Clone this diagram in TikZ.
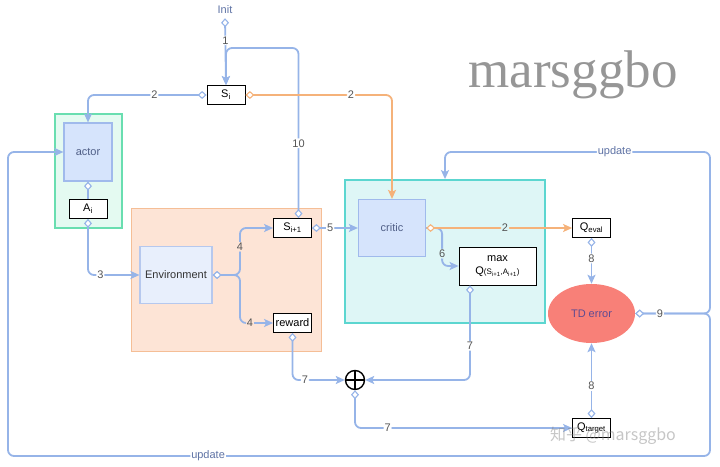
\documentclass[tikz,border=0pt]{standalone}
\usepackage{fontspec}
\setmainfont{Liberation Sans}
\newfontfamily\brandfont{Liberation Serif}
\newfontfamily\cjkfont{Noto Sans CJK SC}
\usepackage{tikz}
\usetikzlibrary{arrows.meta}
\usetikzlibrary{shapes.geometric}
\definecolor{flowblue}{RGB}{150, 180, 232}
\definecolor{floworange}{RGB}{245, 178, 122}
\definecolor{flowtext}{RGB}{95, 115, 165}
\definecolor{labelgray}{RGB}{85, 85, 85}
\definecolor{actorfill}{RGB}{228, 250, 241}
\definecolor{actorline}{RGB}{105, 222, 176}
\definecolor{modfill}{RGB}{214, 228, 252}
\definecolor{modline}{RGB}{160, 186, 236}
\definecolor{modtext}{RGB}{80, 95, 135}
\definecolor{envfill}{RGB}{253, 228, 214}
\definecolor{envline}{RGB}{245, 190, 150}
\definecolor{envbox}{RGB}{232, 239, 252}
\definecolor{envboxline}{RGB}{182, 200, 238}
\definecolor{criticfill}{RGB}{222, 246, 246}
\definecolor{criticline}{RGB}{92, 214, 208}
\definecolor{tdfill}{RGB}{248, 128, 120}
\definecolor{tdtext}{RGB}{95, 75, 145}
\definecolor{brandgray}{RGB}{150, 150, 150}
\tikzset{portdia/.tip = {Diamond[fill = white, length = 9pt, width = 8pt, line width = 1.1pt]}}
\tikzset{flowtip/.tip = {Stealth[length = 9pt, width = 8pt, inset = 2pt]}}
\tikzset{flow/.style = {draw = flowblue, line width = 1.8pt, rounded corners = 6pt, arrows = {portdia-flowtip}}}
\tikzset{grp/.style = {draw, line width = 1.8pt}}
\tikzset{module/.style = {draw = modline, fill = modfill, text = modtext, line width = 1.2pt}}
\tikzset{var/.style = {draw = black, fill = white, line width = 0.8pt, inner sep = 1pt, minimum width = 38pt, minimum height = 19pt}}
\tikzset{lbl/.style = {fill = white, inner sep = 1pt, text = labelgray}}
\tikzset{oplus/.style = {circle, draw = black, line width = 1.4pt, minimum size = 19pt, inner sep = 0pt,
  path picture = {\draw [line width = 1.4pt] (path picture bounding box.north) -- (path picture bounding box.south)
    (path picture bounding box.west) -- (path picture bounding box.east);}}}

\begin{document}
\begin{tikzpicture}[x = 1pt, y = -1pt, font = \fontsize{11}{13}\selectfont]
    \useasboundingbox (0, 0) rectangle (720, 466);

    \node [text = brandgray, font = \brandfont\fontsize{53}{53}\selectfont, anchor = base] (brand) at (573, 87) {marsggbo};

    \node [grp, draw = actorline, fill = actorfill, minimum width = 67pt, minimum height = 114pt] (actorgrp) at (88.5, 171) {};
    \node [grp, draw = envline, fill = envfill, minimum width = 190pt, minimum height = 143pt] (envgrp) at (226.5, 280) {};
    \node [grp, draw = criticline, fill = criticfill, minimum width = 200pt, minimum height = 143pt] (criticgrp) at (445, 251.5) {};

    \node [module, minimum width = 48pt, minimum height = 58pt] (actor) at (88, 152) {actor};
    \node [module, draw = envboxline, fill = envbox, text = black!80, minimum width = 72pt, minimum height = 57pt] (env) at (176, 275) {Environment};
    \node [module, minimum width = 67pt, minimum height = 57pt] (critic) at (392, 228) {critic};

    \node [text = flowtext, inner sep = 1pt] (init) at (225, 10) {Init};
    \node [var] (si) at (226, 95) {S\textsubscript{i}};
    \node [var] (ai) at (88, 209) {A\textsubscript{i}};
    \node [var] (si1) at (292.5, 228) {S\textsubscript{i+1}};
    \node [var] (reward) at (292.5, 323) {reward};
    \node [var] (qeval) at (591.5, 228) {Q\textsubscript{eval}};
    \node [var, align = center, minimum width = 77pt, minimum height = 38pt] (maxq) at (497.5, 266)
      {max\\Q{\fontsize{8}{9}\selectfont(S\textsubscript{i+1},A\textsubscript{i+1})}};
    \node [var] (qtarget) at (591.5, 428) {Q\textsubscript{target}};
    \node [ellipse, fill = tdfill, text = tdtext, inner sep = 0pt, minimum width = 87pt, minimum height = 59pt] (td) at (591.5, 313.5) {TD error};
    \node [oplus] (sum) at (355, 380) {};

    \coordinate (loop) at (226, 48);
    \coordinate (envsplit) at (240, 275);
    \coordinate (tdsplit) at (710, 313.5);
    \coordinate (rtop) at (710, 152);
    \coordinate (ctop) at (445, 152);
    \coordinate (rbot) at (710, 456);
    \coordinate (lbot) at (8, 456);
    \coordinate (ltop) at (8, 152);

    \draw [flow] ([yshift = -3pt]init.south) -- node [lbl, pos = 0.33] {1} (si.north);
    \draw [flow] ([xshift = 6pt]si1.north) |- node [lbl, pos = 0.22] {10} (loop) -- (si.north);
    \draw [flow] (si.west) -| node [lbl, pos = 0.22] {2} (actor.north);
    \draw [flow, draw = floworange] (si.east) -| node [lbl, pos = 0.36] {2} (critic.north);
    \draw [flow, arrows = {portdia-}] (actor.south) -- (ai.north);
    \draw [flow] (ai.south) |- node [lbl, pos = 0.62] {3} (env.west);
    \draw [flow] (env.east) -- (envsplit) |- node [lbl, fill = envfill, pos = 0.3] {4} (si1.west);
    \draw [flow] (env.east) -- (envsplit) |- node [lbl, fill = envfill, pos = 0.65] {4} (reward.west);
    \draw [flow] (si1.east) -- node [lbl, pos = 0.4] {5} (critic.west);
    \draw [flow, arrows = {-flowtip}] (critic.east) -- ++(16, 0) |- node [lbl, fill = criticfill, pos = 0.34] {6} (maxq.west);
    \draw [flow, draw = floworange] (critic.east) -- node [lbl, fill = criticfill, pos = 0.54] {2} (qeval.west);
    \draw [flow] (reward.south) |- node [lbl, pos = 0.62] {7} (sum.west);
    \draw [flow] ([xshift = -27.5pt]maxq.south) |- node [lbl, pos = 0.32] {7} (sum.east);
    \draw [flow] (sum.south) |- node [lbl, pos = 0.575] {7} (qtarget.west);
    \draw [flow] (qeval.south) -- node [lbl, pos = 0.45] {8} (td.north);
    \draw [flow] (qtarget.north) -- node [lbl, pos = 0.43] {8} (td.south);
    \draw [flow] (td.east) -- (tdsplit) -- (rbot) -- node [lbl, text = flowtext, pos = 0.715] {update} (lbot) -- (ltop) -- (actor.west);
    \draw [flow] (td.east) -- node [lbl, pos = 0.33] {9} (tdsplit) -- (rtop) -- node [lbl, text = flowtext, pos = 0.36] {update} (ctop) -- (criticgrp.north);

    \node [text = gray, opacity = 0.45, font = \cjkfont\fontsize{16}{16}\selectfont, anchor = base] (zhihu) at (613, 440) {知乎 @marsggbo};
  \end{tikzpicture}
\end{document}
